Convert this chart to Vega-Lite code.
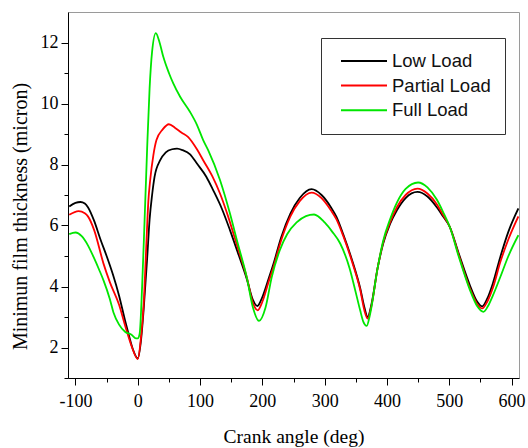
{
  "$schema": "https://vega.github.io/schema/vega-lite/v6.json",
  "autosize": "none",
  "width": 451,
  "height": 366,
  "padding": {"left": 68, "top": 12, "right": 9, "bottom": 70},
  "background": "white",
  "view": {"stroke": "#9a9a9a", "strokeWidth": 1},
  "data": {"values": [
    {"s":"Low Load","a":-110,"h":6.62},{"s":"Low Load","a":-100,"h":6.74},{"s":"Low Load","a":-92,"h":6.77},{"s":"Low Load","a":-85,"h":6.72},{"s":"Low Load","a":-80,"h":6.6},{"s":"Low Load","a":-70,"h":6.15},{"s":"Low Load","a":-60,"h":5.55},{"s":"Low Load","a":-50,"h":5.0},{"s":"Low Load","a":-40,"h":4.4},{"s":"Low Load","a":-30,"h":3.7},{"s":"Low Load","a":-20,"h":2.85},{"s":"Low Load","a":-15,"h":2.46},{"s":"Low Load","a":-8,"h":1.95},{"s":"Low Load","a":0,"h":1.64},{"s":"Low Load","a":5,"h":2.2},{"s":"Low Load","a":10,"h":3.4},{"s":"Low Load","a":15,"h":4.9},{"s":"Low Load","a":19,"h":6.2},{"s":"Low Load","a":23,"h":7.0},{"s":"Low Load","a":27,"h":7.6},{"s":"Low Load","a":36,"h":8.14},{"s":"Low Load","a":45,"h":8.4},{"s":"Low Load","a":55,"h":8.5},{"s":"Low Load","a":63,"h":8.52},{"s":"Low Load","a":72,"h":8.47},{"s":"Low Load","a":84,"h":8.33},{"s":"Low Load","a":95,"h":8.03},{"s":"Low Load","a":110,"h":7.6},{"s":"Low Load","a":121,"h":7.16},{"s":"Low Load","a":135,"h":6.55},{"s":"Low Load","a":148,"h":5.85},{"s":"Low Load","a":160,"h":5.15},{"s":"Low Load","a":175,"h":4.25},{"s":"Low Load","a":185,"h":3.55},{"s":"Low Load","a":192,"h":3.36},{"s":"Low Load","a":199,"h":3.6},{"s":"Low Load","a":210,"h":4.25},{"s":"Low Load","a":218,"h":4.75},{"s":"Low Load","a":230,"h":5.6},{"s":"Low Load","a":245,"h":6.39},{"s":"Low Load","a":260,"h":6.9},{"s":"Low Load","a":279,"h":7.19},{"s":"Low Load","a":295,"h":7.0},{"s":"Low Load","a":310,"h":6.6},{"s":"Low Load","a":319,"h":6.28},{"s":"Low Load","a":330,"h":5.7},{"s":"Low Load","a":345,"h":4.8},{"s":"Low Load","a":357,"h":3.95},{"s":"Low Load","a":364,"h":3.3},{"s":"Low Load","a":369,"h":3.0},{"s":"Low Load","a":375,"h":3.4},{"s":"Low Load","a":385,"h":4.6},{"s":"Low Load","a":394,"h":5.41},{"s":"Low Load","a":405,"h":6.05},{"s":"Low Load","a":416,"h":6.5},{"s":"Low Load","a":430,"h":6.9},{"s":"Low Load","a":449,"h":7.1},{"s":"Low Load","a":465,"h":6.95},{"s":"Low Load","a":480,"h":6.6},{"s":"Low Load","a":490,"h":6.3},{"s":"Low Load","a":501,"h":5.95},{"s":"Low Load","a":515,"h":5.1},{"s":"Low Load","a":533,"h":4.05},{"s":"Low Load","a":545,"h":3.5},{"s":"Low Load","a":553,"h":3.35},{"s":"Low Load","a":561,"h":3.6},{"s":"Low Load","a":570,"h":4.1},{"s":"Low Load","a":582,"h":4.97},{"s":"Low Load","a":595,"h":5.8},{"s":"Low Load","a":611,"h":6.56},
    {"s":"Partial Load","a":-110,"h":6.35},{"s":"Partial Load","a":-95,"h":6.47},{"s":"Partial Load","a":-85,"h":6.4},{"s":"Partial Load","a":-80,"h":6.3},{"s":"Partial Load","a":-70,"h":5.85},{"s":"Partial Load","a":-55,"h":4.75},{"s":"Partial Load","a":-45,"h":4.15},{"s":"Partial Load","a":-30,"h":3.4},{"s":"Partial Load","a":-20,"h":2.7},{"s":"Partial Load","a":-10,"h":2.05},{"s":"Partial Load","a":0,"h":1.62},{"s":"Partial Load","a":5,"h":2.3},{"s":"Partial Load","a":10,"h":3.6},{"s":"Partial Load","a":14,"h":5.5},{"s":"Partial Load","a":17,"h":6.8},{"s":"Partial Load","a":20,"h":7.5},{"s":"Partial Load","a":25,"h":8.3},{"s":"Partial Load","a":30,"h":8.8},{"s":"Partial Load","a":40,"h":9.15},{"s":"Partial Load","a":50,"h":9.32},{"s":"Partial Load","a":60,"h":9.2},{"s":"Partial Load","a":70,"h":9.05},{"s":"Partial Load","a":81,"h":8.9},{"s":"Partial Load","a":95,"h":8.5},{"s":"Partial Load","a":105,"h":8.14},{"s":"Partial Load","a":120,"h":7.6},{"s":"Partial Load","a":132,"h":7.05},{"s":"Partial Load","a":145,"h":6.3},{"s":"Partial Load","a":160,"h":5.3},{"s":"Partial Load","a":175,"h":4.3},{"s":"Partial Load","a":185,"h":3.45},{"s":"Partial Load","a":192.6,"h":3.22},{"s":"Partial Load","a":200,"h":3.5},{"s":"Partial Load","a":210,"h":4.15},{"s":"Partial Load","a":218,"h":4.65},{"s":"Partial Load","a":230,"h":5.5},{"s":"Partial Load","a":245,"h":6.3},{"s":"Partial Load","a":260,"h":6.8},{"s":"Partial Load","a":279,"h":7.08},{"s":"Partial Load","a":295,"h":6.9},{"s":"Partial Load","a":310,"h":6.5},{"s":"Partial Load","a":319,"h":6.2},{"s":"Partial Load","a":330,"h":5.65},{"s":"Partial Load","a":345,"h":4.75},{"s":"Partial Load","a":357,"h":3.9},{"s":"Partial Load","a":364,"h":3.2},{"s":"Partial Load","a":369,"h":2.95},{"s":"Partial Load","a":375,"h":3.35},{"s":"Partial Load","a":385,"h":4.6},{"s":"Partial Load","a":394,"h":5.45},{"s":"Partial Load","a":405,"h":6.1},{"s":"Partial Load","a":416,"h":6.6},{"s":"Partial Load","a":430,"h":7.0},{"s":"Partial Load","a":449,"h":7.21},{"s":"Partial Load","a":465,"h":7.05},{"s":"Partial Load","a":480,"h":6.7},{"s":"Partial Load","a":490,"h":6.35},{"s":"Partial Load","a":501,"h":5.95},{"s":"Partial Load","a":515,"h":5.05},{"s":"Partial Load","a":533,"h":3.95},{"s":"Partial Load","a":545,"h":3.42},{"s":"Partial Load","a":553,"h":3.28},{"s":"Partial Load","a":561,"h":3.5},{"s":"Partial Load","a":570,"h":3.95},{"s":"Partial Load","a":582,"h":4.8},{"s":"Partial Load","a":595,"h":5.55},{"s":"Partial Load","a":611,"h":6.3},
    {"s":"Full Load","a":-110,"h":5.72},{"s":"Full Load","a":-100,"h":5.77},{"s":"Full Load","a":-90,"h":5.65},{"s":"Full Load","a":-80,"h":5.35},{"s":"Full Load","a":-71,"h":4.97},{"s":"Full Load","a":-62,"h":4.55},{"s":"Full Load","a":-55,"h":4.2},{"s":"Full Load","a":-45,"h":3.6},{"s":"Full Load","a":-39,"h":3.15},{"s":"Full Load","a":-30,"h":2.75},{"s":"Full Load","a":-20,"h":2.51},{"s":"Full Load","a":-10,"h":2.42},{"s":"Full Load","a":-3,"h":2.3},{"s":"Full Load","a":0,"h":2.3},{"s":"Full Load","a":3,"h":2.45},{"s":"Full Load","a":7,"h":4.0},{"s":"Full Load","a":11,"h":6.2},{"s":"Full Load","a":15,"h":8.5},{"s":"Full Load","a":19,"h":10.5},{"s":"Full Load","a":23,"h":11.7},{"s":"Full Load","a":29,"h":12.31},{"s":"Full Load","a":35,"h":12.0},{"s":"Full Load","a":41,"h":11.53},{"s":"Full Load","a":50,"h":11.0},{"s":"Full Load","a":57,"h":10.66},{"s":"Full Load","a":68,"h":10.22},{"s":"Full Load","a":84,"h":9.72},{"s":"Full Load","a":95,"h":9.3},{"s":"Full Load","a":105,"h":8.8},{"s":"Full Load","a":113,"h":8.47},{"s":"Full Load","a":132,"h":7.49},{"s":"Full Load","a":148,"h":6.39},{"s":"Full Load","a":160,"h":5.45},{"s":"Full Load","a":175,"h":4.3},{"s":"Full Load","a":185,"h":3.3},{"s":"Full Load","a":194.7,"h":2.87},{"s":"Full Load","a":205,"h":3.3},{"s":"Full Load","a":215,"h":4.3},{"s":"Full Load","a":228,"h":5.19},{"s":"Full Load","a":240,"h":5.72},{"s":"Full Load","a":255,"h":6.1},{"s":"Full Load","a":270,"h":6.31},{"s":"Full Load","a":283,"h":6.36},{"s":"Full Load","a":300,"h":6.1},{"s":"Full Load","a":312,"h":5.8},{"s":"Full Load","a":325,"h":5.41},{"s":"Full Load","a":340,"h":4.6},{"s":"Full Load","a":350,"h":3.8},{"s":"Full Load","a":357,"h":3.22},{"s":"Full Load","a":362,"h":2.85},{"s":"Full Load","a":367.5,"h":2.71},{"s":"Full Load","a":373,"h":3.1},{"s":"Full Load","a":385,"h":4.6},{"s":"Full Load","a":394,"h":5.5},{"s":"Full Load","a":405,"h":6.2},{"s":"Full Load","a":416,"h":6.75},{"s":"Full Load","a":430,"h":7.2},{"s":"Full Load","a":450,"h":7.41},{"s":"Full Load","a":465,"h":7.25},{"s":"Full Load","a":480,"h":6.85},{"s":"Full Load","a":490,"h":6.45},{"s":"Full Load","a":501,"h":5.95},{"s":"Full Load","a":515,"h":5.0},{"s":"Full Load","a":533,"h":3.9},{"s":"Full Load","a":545,"h":3.35},{"s":"Full Load","a":555,"h":3.17},{"s":"Full Load","a":562,"h":3.35},{"s":"Full Load","a":570,"h":3.7},{"s":"Full Load","a":582,"h":4.31},{"s":"Full Load","a":595,"h":5.0},{"s":"Full Load","a":611,"h":5.68}
  ]},
  "mark": {"type": "line", "interpolate": "monotone", "strokeWidth": 1.8, "clip": true},
  "encoding": {
    "x": {
      "field": "a", "type": "quantitative",
      "scale": {"domain": [-112, 612], "nice": false, "zero": false},
      "axis": {
        "title": "Crank angle (deg)",
        "values": [-100,-50,0,50,100,150,200,250,300,350,400,450,500,550,600],
        "labelExpr": "datum.value % 100 === 0 ? '' + datum.value : ''",
        "tickSize": {"condition": {"test": "datum.value % 100 === 0", "value": 7}, "value": 4},
        "grid": false, "domainColor": "black", "tickColor": "black", "domainWidth": 1, "tickWidth": 1,
        "labelFont": "Liberation Serif", "labelFontSize": 18, "labelColor": "black", "labelPadding": 7,
        "labelFlush": false, "labelOverlap": false,
        "titleFont": "Liberation Serif", "titleFontSize": 19.5, "titleFontWeight": "normal", "titleColor": "black", "titlePadding": 17
      }
    },
    "y": {
      "field": "h", "type": "quantitative",
      "scale": {"domain": [1, 13], "nice": false, "zero": false},
      "axis": {
        "title": "Minimun film thickness (micron)",
        "values": [1,2,3,4,5,6,7,8,9,10,11,12],
        "labelExpr": "datum.value % 2 === 0 ? '' + datum.value : ''",
        "tickSize": {"condition": {"test": "datum.value % 2 === 0", "value": 7}, "value": 4},
        "grid": false, "domainColor": "black", "tickColor": "black", "domainWidth": 1, "tickWidth": 1,
        "labelFont": "Liberation Serif", "labelFontSize": 18, "labelColor": "black", "labelPadding": 3,
        "labelFlush": false, "labelOverlap": false,
        "titleFont": "Liberation Serif", "titleFontSize": 20, "titleFontWeight": "normal", "titleColor": "black", "titlePadding": 10, "titleY": 204
      }
    },
    "color": {
      "field": "s", "type": "nominal",
      "scale": {"domain": ["Low Load", "Partial Load", "Full Load"], "range": ["#000000", "#ff0000", "#00e600"]},
      "legend": {
        "title": null, "orient": "none", "legendX": 253, "legendY": 26,
        "direction": "vertical",
        "strokeColor": "#333333", "fillColor": "white", "padding": 14,
        "symbolType": "stroke", "symbolSize": 2116, "symbolStrokeWidth": 2, "symbolOffset": 5,
        "clipHeight": 18,
        "labelFont": "Liberation Sans", "labelFontSize": 18.5, "labelColor": "#111111",
        "labelOffset": 4, "rowPadding": 5.6
      }
    },
    "order": {"field": "s", "sort": "descending"}
  }
}
